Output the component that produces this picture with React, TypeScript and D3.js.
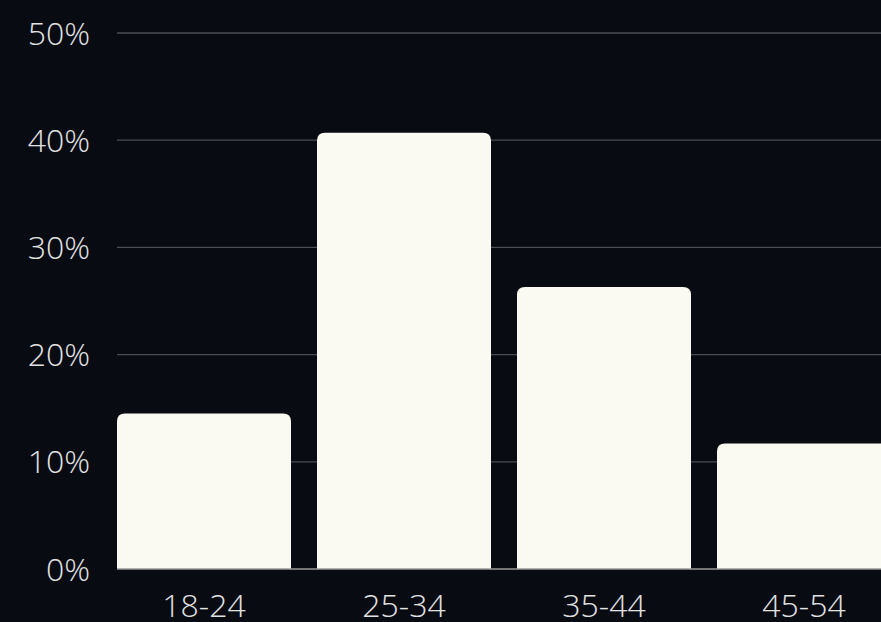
import * as d3 from "d3";

const ageGroups = ["18-24", "25-34", "35-44", "45-54"];
const shares = [14.5, 40.7, 26.3, 11.7];
const yTicks = [0, 10, 20, 30, 40, 50];

const W = 881;
const H = 622;
const margin = { top: 33, left: 117, bottom: 53 };
const radius = 8;

// bar with only the top corners rounded
function barPath(x: number, y: number, w: number, h: number, r: number) {
  const rr = Math.min(r, h, w / 2);
  return `M${x},${y + h}V${y + rr}Q${x},${y} ${x + rr},${y}H${x + w - rr}Q${x + w},${y} ${x + w},${y + rr}V${y + h}Z`;
}

export default function App() {
  const x = d3
    .scaleBand<string>()
    .domain(ageGroups)
    .range([margin.left, margin.left + ageGroups.length * 200 - 26])
    .paddingInner(0.13)
    .paddingOuter(0);

  const y = d3
    .scaleLinear()
    .domain([0, 50])
    .range([H - margin.bottom, margin.top]);

  const font = "'Open Sans', sans-serif";

  return (
    <svg
      width={W}
      height={H}
      style={{ position: "fixed", left: 0, top: 0, display: "block" }}
    >
      <style>{`body{margin:0;background:#080b12}`}</style>
      <rect width={W} height={H} fill="#080b12" />
      {yTicks.map((t) => (
        <g key={t}>
          {t > 0 && (
            <line
              x1={margin.left}
              x2={W}
              y1={y(t)}
              y2={y(t)}
              stroke="#4b4c52"
              strokeWidth={1.3}
            />
          )}
          <text
            x={90}
            y={y(t)}
            dy="0.36em"
            textAnchor="end"
            fill="#e2e2e2"
            fontFamily={font}
            fontWeight={300}
            fontSize={32}
          >
            {t}%
          </text>
        </g>
      ))}
      {ageGroups.map((g, i) => (
        <path
          key={g}
          d={barPath(x(g)!, y(shares[i]), x.bandwidth(), y(0) - y(shares[i]), radius)}
          fill="#fafaf2"
        />
      ))}
      <line
        x1={margin.left}
        x2={W}
        y1={y(0)}
        y2={y(0)}
        stroke="#9a9a9a"
        strokeWidth={1.3}
      />
      {ageGroups.map((g) => (
        <text
          key={g}
          x={x(g)! + x.bandwidth() / 2}
          y={617}
          textAnchor="middle"
          fill="#e2e2e2"
          fontFamily={font}
          fontWeight={300}
          fontSize={32}
        >
          {g}
        </text>
      ))}
    </svg>
  );
}
